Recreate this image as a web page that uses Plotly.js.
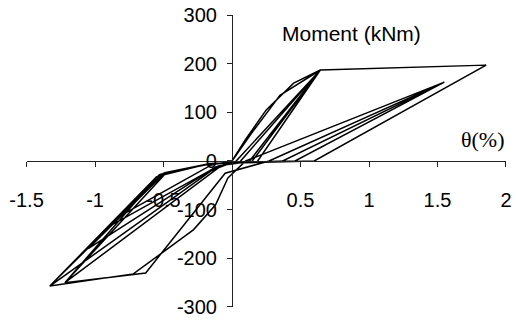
<!DOCTYPE html>
<html>
<head>
<meta charset="utf-8">
<script src="https://cdn.plot.ly/plotly-3.0.1.min.js"></script>
<style>html,body{margin:0;padding:0;background:#fff;}#chart{width:516px;height:322px;}</style>
</head>
<body>
<div id="chart"></div>
<script>
// Early cycles up to first yield (rotation in %, moment in kNm)
const cycle1Theta  = [0, 0.10, 0.25, 0.45, 0.645, 0.12, -0.16, -0.50, -0.80, -0.15, 0.00, 0.15, 0.35, 0.645, 0.18, -0.16, -0.52, -0.90, -0.10, 0.05, 0.645, 0.14, -0.16, -0.49, -1.05, -0.12, 0.02, 0.645];
const cycle1Moment = [0, 45, 105, 160, 187, -3, -5, -25, -110, -8, 0, 60, 135, 187, -3, -5, -27, -135, -10, -4, 187, -3, -5, -24, -180, -12, -3, 187];
// Post-yield large cycles
const cycle2Theta  = [0.645, 1.855, 0.60, 0.30, -0.16, -0.50, -1.33, -0.72, -0.28, -0.12, -0.03, 0.10, 1.55, 0.46, -0.16, -0.53, -1.22, -0.63, -0.05, 0.27, 1.55, 0.37, -0.16, -0.48, -1.22, -0.10, 0.00, -0.20, -0.55, -1.33, -0.15, 0.00];
const cycle2Moment = [187, 197, 0, -2, -5, -25, -257, -232, -141, -90, -35, 0, 162, 0, -5, -28, -250, -230, -25, 0, 162, 0, -6, -24, -250, -14, -3, -8, -32, -257, -20, 0];

const xTicks = [-1.5, -1, -0.5, 0.5, 1, 1.5, 2];
const xTickText = ['-1.5', '-1', '-0.5', '0.5', '1', '1.5', '2'];
const yTicks = [-300, -200, -100, 0, 100, 200, 300];
const yTickText = ['-300', '-200', '-100', '0', '100', '200', '300'];

const theta = cycle1Theta.concat(cycle2Theta);
const moment = cycle1Moment.concat(cycle2Moment);

const font = 'Liberation Sans, Arial, sans-serif';
const data = [{
  x: theta, y: moment, type: 'scatter', mode: 'lines',
  line: {color: '#000', width: 1.5}, hoverinfo: 'skip'
}];
const layout = {
  width: 516, height: 322,
  margin: {l: 0, r: 0, t: 0, b: 0},
  paper_bgcolor: '#fff', plot_bgcolor: '#fff',
  showlegend: false,
  xaxis: {
    range: [-1.5, 2], domain: [0.0514, 0.9806],
    anchor: 'free', position: 0.5,
    showline: true, linecolor: '#222', linewidth: 1,
    showgrid: false, zeroline: false,
    tickmode: 'array', tickvals: xTicks, ticktext: xTickText,
    ticks: 'outside', ticklen: 5, tickcolor: '#222',
    ticklabelstandoff: 16,
    tickfont: {family: font, size: 20, color: '#000'}
  },
  yaxis: {
    range: [-300, 300], domain: [0.0466, 0.9534],
    anchor: 'free', position: 0.4496,
    showline: true, linecolor: '#222', linewidth: 1,
    showgrid: false, zeroline: false,
    tickmode: 'array', tickvals: yTicks, ticktext: yTickText,
    ticks: 'outside', ticklen: 5, tickcolor: '#222',
    ticklabelstandoff: 6,
    tickfont: {family: font, size: 20, color: '#000'}
  },
  annotations: [
    {text: 'Moment (kNm)', xref: 'paper', yref: 'paper', x: 280/516, y: 1 - 33/322,
     xanchor: 'left', yanchor: 'middle', showarrow: false,
     font: {family: font, size: 21, color: '#000'}},
    {text: '\u03b8(%)', xref: 'paper', yref: 'paper', x: 459/516, y: 1 - 139/322,
     xanchor: 'left', yanchor: 'middle', showarrow: false,
     font: {family: 'Liberation Serif, Times New Roman, serif', size: 22, color: '#000'}}
  ]
};
Plotly.newPlot('chart', data, layout, {staticPlot: true, displayModeBar: false});
</script>
</body>
</html>
